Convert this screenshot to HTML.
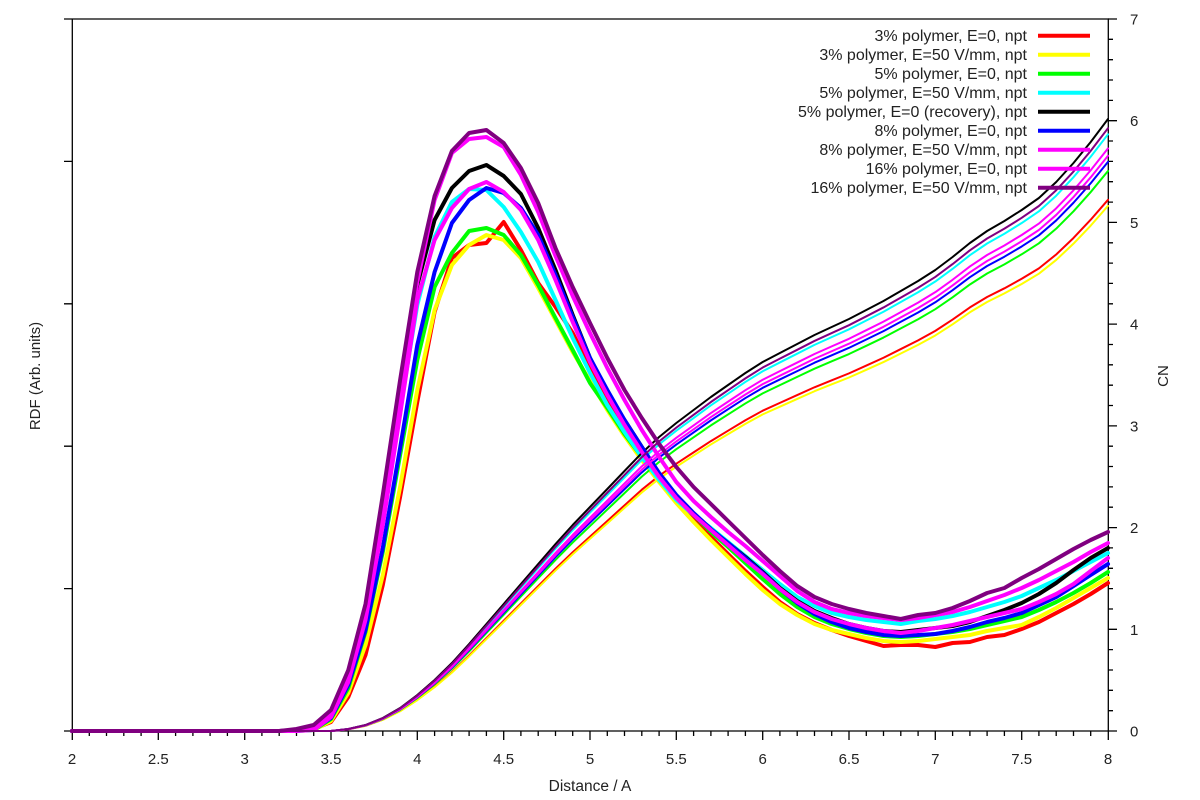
<!DOCTYPE html>
<html>
<head>
<meta charset="utf-8">
<style>
html,body{margin:0;padding:0;background:#fff;}
svg{display:block;}
text{font-family:"Liberation Sans",Arial,sans-serif;fill:#222;}
</style>
</head>
<body>
<svg width="1200" height="800" viewBox="0 0 1200 800" xmlns="http://www.w3.org/2000/svg">
<rect x="0" y="0" width="1200" height="800" fill="#fff"/>

<!-- frame -->
<g stroke="#000" stroke-width="1.3" fill="none">
<path d="M72.3 19 V731 H1108.3 V19 H64"/>
<!-- left ticks -->
<path d="M64 731 H72 M64 588.6 H72 M64 446.2 H72 M64 303.8 H72 M64 161.4 H72"/>
<!-- x major ticks -->
<path d="M72.3 731 v9 M158.3 731 v9 M244.7 731 v9 M331 731 v9 M417.3 731 v9 M503.7 731 v9 M590 731 v9 M676.3 731 v9 M762.7 731 v9 M849 731 v9 M935.3 731 v9 M1021.7 731 v9 M1108.3 731 v9"/>
<!-- x minor ticks -->
<path d="M89.3 731v5M106.5 731v5M123.8 731v5M141.1 731v5M175.6 731v5M192.9 731v5M210.1 731v5M227.4 731v5M261.9 731v5M279.2 731v5M296.5 731v5M313.7 731v5M348.3 731v5M365.5 731v5M382.8 731v5M400.1 731v5M434.6 731v5M451.9 731v5M469.1 731v5M486.4 731v5M520.9 731v5M538.2 731v5M555.5 731v5M572.7 731v5M607.3 731v5M624.5 731v5M641.8 731v5M659.1 731v5M693.6 731v5M710.9 731v5M728.1 731v5M745.4 731v5M779.9 731v5M797.2 731v5M814.5 731v5M831.7 731v5M866.3 731v5M883.5 731v5M900.8 731v5M918.1 731v5M952.6 731v5M969.9 731v5M987.1 731v5M1004.4 731v5M1038.9 731v5M1056.2 731v5M1073.5 731v5M1090.7 731v5"/>
<!-- right major ticks -->
<path d="M1108 731h9M1108 629.3h9M1108 527.6h9M1108 425.9h9M1108 324.1h9M1108 222.4h9M1108 120.7h9M1108 19h9"/>
<!-- right minor ticks -->
<path d="M1108 710.7h5M1108 690.3h5M1108 670h5M1108 649.6h5M1108 609h5M1108 588.6h5M1108 568.3h5M1108 547.9h5M1108 507.2h5M1108 486.9h5M1108 466.5h5M1108 446.2h5M1108 405.5h5M1108 385.2h5M1108 364.8h5M1108 344.5h5M1108 303.8h5M1108 283.4h5M1108 263.1h5M1108 242.8h5M1108 202.1h5M1108 181.7h5M1108 161.4h5M1108 141h5M1108 100.4h5M1108 80h5M1108 59.7h5M1108 39.3h5"/>
</g>

<!-- x tick labels -->
<g font-size="15" text-anchor="middle">
<text x="72" y="764">2</text>
<text x="158.3" y="764">2.5</text>
<text x="244.7" y="764">3</text>
<text x="331" y="764">3.5</text>
<text x="417.3" y="764">4</text>
<text x="503.7" y="764">4.5</text>
<text x="590" y="764">5</text>
<text x="676.3" y="764">5.5</text>
<text x="762.7" y="764">6</text>
<text x="849" y="764">6.5</text>
<text x="935.3" y="764">7</text>
<text x="1021.7" y="764">7.5</text>
<text x="1108" y="764">8</text>
</g>
<!-- right tick labels -->
<g font-size="15" text-anchor="start">
<text x="1130" y="736.5">0</text>
<text x="1130" y="634.8">1</text>
<text x="1130" y="533.1">2</text>
<text x="1130" y="431.4">3</text>
<text x="1130" y="329.6">4</text>
<text x="1130" y="227.9">5</text>
<text x="1130" y="126.2">6</text>
<text x="1130" y="24.5">7</text>
</g>

<!-- axis labels -->
<text x="590" y="791" font-size="15.5" text-anchor="middle">Distance / A</text>
<text transform="translate(40,376) rotate(-90)" font-size="15" text-anchor="middle">RDF (Arb. units)</text>
<text transform="translate(1168,376) rotate(-90)" font-size="15" text-anchor="middle">CN</text>

<g fill="none" stroke-linejoin="round" stroke-linecap="round">

<!-- 3% E=0 red -->
<polyline stroke="#ff0000" stroke-width="4" points="72,731 279.2,731 296.5,731 313.7,729 331,722 348.3,697 365.5,655 382.8,585 400.1,497 417.3,402 434.6,312 451.9,258 469.1,245 486.4,243 503.7,222 520.9,250 538.2,283 555.5,307 572.7,333 590,368 607.3,402 624.5,432 641.8,457 659.1,480 676.3,500 693.6,519 710.9,537 728.1,554 745.4,571 762.7,587 779.9,602 797.2,614 814.5,623 831.7,630 849,636 866.3,641 883.5,646 900.8,645 918.1,645 935.3,647 952.6,643 969.9,642 987.1,637 1004.4,635 1021.7,629 1038.9,622 1056.2,613 1073.5,604 1090.7,594 1108,583"/>
<polyline stroke="#ff0000" stroke-width="2" vector-effect="non-scaling-stroke" transform="matrix(1 0 0 0.868 0 96.492)" points="72,731 331,731 348.3,729 365.5,725 382.8,718 400.1,708 417.3,695 434.6,680 451.9,663 469.1,644 486.4,624 503.7,604 520.9,584 538.2,564 555.5,544 572.7,525 590,507 607.3,489 624.5,471 641.8,453 659.1,437 676.3,423 693.6,410 710.9,397 728.1,385 745.4,373 762.7,362 779.9,353 797.2,344 814.5,335 831.7,327 849,319 866.3,310 883.5,301 900.8,291 918.1,281 935.3,270 952.6,257 969.9,243 987.1,231 1004.4,221 1021.7,210 1038.9,198 1056.2,182 1073.5,163 1090.7,142 1108,119"/>

<!-- 3% E=50 yellow -->
<polyline stroke="#ffff00" stroke-width="4" points="72,731 279.2,731 296.5,731 313.7,730 331,721 348.3,693 365.5,645 382.8,575 400.1,487 417.3,390 434.6,310 451.9,265 469.1,245 486.4,235 503.7,240 520.9,258 538.2,288 555.5,320 572.7,352 590,381 607.3,410 624.5,436 641.8,460 659.1,482 676.3,503 693.6,522 710.9,540 728.1,557 745.4,574 762.7,590 779.9,604 797.2,615 814.5,624 831.7,630 849,634 866.3,638 883.5,641 900.8,642 918.1,641 935.3,639 952.6,637 969.9,635 987.1,631 1004.4,628 1021.7,625 1038.9,617 1056.2,608 1073.5,598 1090.7,588 1108,578"/>
<polyline stroke="#ffff00" stroke-width="2" vector-effect="non-scaling-stroke" transform="matrix(1 0 0 0.858 0 103.798)" points="72,731 331,731 348.3,729 365.5,725 382.8,718 400.1,708 417.3,695 434.6,680 451.9,663 469.1,644 486.4,624 503.7,604 520.9,584 538.2,564 555.5,544 572.7,525 590,507 607.3,489 624.5,471 641.8,453 659.1,437 676.3,423 693.6,410 710.9,397 728.1,385 745.4,373 762.7,362 779.9,353 797.2,344 814.5,335 831.7,327 849,319 866.3,310 883.5,301 900.8,291 918.1,281 935.3,270 952.6,257 969.9,243 987.1,231 1004.4,221 1021.7,210 1038.9,198 1056.2,182 1073.5,163 1090.7,142 1108,119"/>

<!-- 5% E=0 green -->
<polyline stroke="#00ff00" stroke-width="4" points="72,731 279.2,731 296.5,731 313.7,730 331,719 348.3,688 365.5,632 382.8,552 400.1,455 417.3,360 434.6,287 451.9,253 469.1,231 486.4,228 503.7,235 520.9,255 538.2,285 555.5,318 572.7,350 590,383 607.3,408 624.5,434 641.8,457 659.1,479 676.3,498 693.6,515 710.9,532 728.1,547 745.4,563 762.7,579 779.9,594 797.2,607 814.5,617 831.7,624 849,629 866.3,633 883.5,636 900.8,637 918.1,636 935.3,634 952.6,632 969.9,629 987.1,625 1004.4,621 1021.7,617 1038.9,610 1056.2,602 1073.5,593 1090.7,583 1108,572"/>
<polyline stroke="#00ff00" stroke-width="2" vector-effect="non-scaling-stroke" transform="matrix(1 0 0 0.915 0 62.135)" points="72,731 331,731 348.3,729 365.5,725 382.8,718 400.1,708 417.3,695 434.6,680 451.9,663 469.1,644 486.4,624 503.7,604 520.9,584 538.2,564 555.5,544 572.7,525 590,507 607.3,489 624.5,471 641.8,453 659.1,437 676.3,423 693.6,410 710.9,397 728.1,385 745.4,373 762.7,362 779.9,353 797.2,344 814.5,335 831.7,327 849,319 866.3,310 883.5,301 900.8,291 918.1,281 935.3,270 952.6,257 969.9,243 987.1,231 1004.4,221 1021.7,210 1038.9,198 1056.2,182 1073.5,163 1090.7,142 1108,119"/>

<!-- 5% E=50 cyan -->
<polyline stroke="#00ffff" stroke-width="4" points="72,731 279.2,731 296.5,731 313.7,730 331,716 348.3,680 365.5,617 382.8,520 400.1,410 417.3,305 434.6,237 451.9,202 469.1,189 486.4,190 503.7,207 520.9,232 538.2,262 555.5,300 572.7,338 590,373 607.3,405 624.5,432 641.8,457 659.1,480 676.3,500 693.6,515 710.9,528 728.1,542 745.4,556 762.7,570 779.9,584 797.2,597 814.5,606 831.7,613 849,617 866.3,620 883.5,622 900.8,624 918.1,621 935.3,619 952.6,616 969.9,612 987.1,607 1004.4,602 1021.7,596 1038.9,588 1056.2,580 1073.5,571 1090.7,562 1108,553"/>
<polyline stroke="#00ffff" stroke-width="2" vector-effect="non-scaling-stroke" transform="matrix(1 0 0 0.975 0 18.275)" points="72,731 331,731 348.3,729 365.5,725 382.8,718 400.1,708 417.3,695 434.6,680 451.9,663 469.1,644 486.4,624 503.7,604 520.9,584 538.2,564 555.5,544 572.7,525 590,507 607.3,489 624.5,471 641.8,453 659.1,437 676.3,423 693.6,410 710.9,397 728.1,385 745.4,373 762.7,362 779.9,353 797.2,344 814.5,335 831.7,327 849,319 866.3,310 883.5,301 900.8,291 918.1,281 935.3,270 952.6,257 969.9,243 987.1,231 1004.4,221 1021.7,210 1038.9,198 1056.2,182 1073.5,163 1090.7,142 1108,119"/>

<!-- 5% recovery black -->
<polyline stroke="#000000" stroke-width="4" points="72,731 279.2,731 296.5,730 313.7,727 331,716 348.3,680 365.5,615 382.8,510 400.1,395 417.3,285 434.6,220 451.9,188 469.1,171 486.4,165 503.7,176 520.9,194 538.2,228 555.5,270 572.7,315 590,358 607.3,392 624.5,420 641.8,447 659.1,474 676.3,497 693.6,515 710.9,530 728.1,543 745.4,557 762.7,572 779.9,588 797.2,601 814.5,611 831.7,618 849,624 866.3,628 883.5,631 900.8,632 918.1,630 935.3,628 952.6,626 969.9,622 987.1,616 1004.4,610 1021.7,603 1038.9,594 1056.2,583 1073.5,570 1090.7,558 1108,548"/>
<polyline stroke="#000000" stroke-width="2" points="72,731 331,731 348.3,729 365.5,725 382.8,718 400.1,708 417.3,695 434.6,680 451.9,663 469.1,644 486.4,624 503.7,604 520.9,584 538.2,564 555.5,544 572.7,525 590,507 607.3,489 624.5,471 641.8,453 659.1,437 676.3,423 693.6,410 710.9,397 728.1,385 745.4,373 762.7,362 779.9,353 797.2,344 814.5,335 831.7,327 849,319 866.3,310 883.5,301 900.8,291 918.1,281 935.3,270 952.6,257 969.9,243 987.1,231 1004.4,221 1021.7,210 1038.9,198 1056.2,182 1073.5,163 1090.7,142 1108,119"/>

<!-- 8% E=0 blue -->
<polyline stroke="#0000ff" stroke-width="4" points="72,731 279.2,731 296.5,731 313.7,729 331,718 348.3,685 365.5,630 382.8,548 400.1,448 417.3,345 434.6,272 451.9,223 469.1,200 486.4,188 503.7,193 520.9,208 538.2,235 555.5,275 572.7,317 590,358 607.3,390 624.5,420 641.8,447 659.1,473 676.3,495 693.6,513 710.9,529 728.1,543 745.4,558 762.7,573 779.9,589 797.2,603 814.5,614 831.7,622 849,628 866.3,632 883.5,635 900.8,636 918.1,635 935.3,634 952.6,631 969.9,627 987.1,622 1004.4,618 1021.7,613 1038.9,605 1056.2,597 1073.5,586 1090.7,575 1108,564"/>
<polyline stroke="#0000ff" stroke-width="2" vector-effect="non-scaling-stroke" transform="matrix(1 0 0 0.93 0 51.17)" points="72,731 331,731 348.3,729 365.5,725 382.8,718 400.1,708 417.3,695 434.6,680 451.9,663 469.1,644 486.4,624 503.7,604 520.9,584 538.2,564 555.5,544 572.7,525 590,507 607.3,489 624.5,471 641.8,453 659.1,437 676.3,423 693.6,410 710.9,397 728.1,385 745.4,373 762.7,362 779.9,353 797.2,344 814.5,335 831.7,327 849,319 866.3,310 883.5,301 900.8,291 918.1,281 935.3,270 952.6,257 969.9,243 987.1,231 1004.4,221 1021.7,210 1038.9,198 1056.2,182 1073.5,163 1090.7,142 1108,119"/>

<!-- 8% E=50 magenta -->
<polyline stroke="#ff00ff" stroke-width="4" points="72,731 279.2,731 296.5,731 313.7,730 331,717 348.3,682 365.5,620 382.8,525 400.1,415 417.3,300 434.6,240 451.9,208 469.1,189 486.4,182 503.7,192 520.9,210 538.2,240 555.5,280 572.7,322 590,362 607.3,395 624.5,425 641.8,452 659.1,477 676.3,498 693.6,515 710.9,530 728.1,545 745.4,560 762.7,574 779.9,589 797.2,602 814.5,612 831.7,619 849,624 866.3,628 883.5,631 900.8,633 918.1,631 935.3,628 952.6,625 969.9,621 987.1,617 1004.4,613 1021.7,609 1038.9,602 1056.2,594 1073.5,584 1090.7,571 1108,558"/>
<polyline stroke="#ff00ff" stroke-width="2" vector-effect="non-scaling-stroke" transform="matrix(1 0 0 0.94 0 43.86)" points="72,731 331,731 348.3,729 365.5,725 382.8,718 400.1,708 417.3,695 434.6,680 451.9,663 469.1,644 486.4,624 503.7,604 520.9,584 538.2,564 555.5,544 572.7,525 590,507 607.3,489 624.5,471 641.8,453 659.1,437 676.3,423 693.6,410 710.9,397 728.1,385 745.4,373 762.7,362 779.9,353 797.2,344 814.5,335 831.7,327 849,319 866.3,310 883.5,301 900.8,291 918.1,281 935.3,270 952.6,257 969.9,243 987.1,231 1004.4,221 1021.7,210 1038.9,198 1056.2,182 1073.5,163 1090.7,142 1108,119"/>

<!-- 16% E=0 magenta -->
<polyline stroke="#ff00ff" stroke-width="4" points="72,731 279.2,731 296.5,730 313.7,726 331,713 348.3,678 365.5,617 382.8,515 400.1,395 417.3,282 434.6,200 451.9,153 469.1,139 486.4,137 503.7,147 520.9,175 538.2,212 555.5,256 572.7,296 590,333 607.3,368 624.5,400 641.8,430 659.1,457 676.3,482 693.6,501 710.9,517 728.1,532 745.4,546 762.7,561 779.9,576 797.2,591 814.5,602 831.7,609 849,613 866.3,616 883.5,618 900.8,620 918.1,618 935.3,615 952.6,612 969.9,607 987.1,601 1004.4,595 1021.7,588 1038.9,580 1056.2,571 1073.5,562 1090.7,552 1108,543"/>
<polyline stroke="#ff00ff" stroke-width="2" vector-effect="non-scaling-stroke" transform="matrix(1 0 0 0.952 0 35.088)" points="72,731 331,731 348.3,729 365.5,725 382.8,718 400.1,708 417.3,695 434.6,680 451.9,663 469.1,644 486.4,624 503.7,604 520.9,584 538.2,564 555.5,544 572.7,525 590,507 607.3,489 624.5,471 641.8,453 659.1,437 676.3,423 693.6,410 710.9,397 728.1,385 745.4,373 762.7,362 779.9,353 797.2,344 814.5,335 831.7,327 849,319 866.3,310 883.5,301 900.8,291 918.1,281 935.3,270 952.6,257 969.9,243 987.1,231 1004.4,221 1021.7,210 1038.9,198 1056.2,182 1073.5,163 1090.7,142 1108,119"/>

<!-- 16% E=50 purple -->
<polyline stroke="#800080" stroke-width="4" points="72,731 279.2,731 296.5,729 313.7,725 331,710 348.3,670 365.5,604 382.8,495 400.1,380 417.3,272 434.6,196 451.9,151 469.1,133 486.4,130 503.7,143 520.9,168 538.2,203 555.5,248 572.7,287 590,323 607.3,358 624.5,390 641.8,418 659.1,444 676.3,467 693.6,487 710.9,504 728.1,521 745.4,538 762.7,555 779.9,571 797.2,586 814.5,597 831.7,604 849,609 866.3,613 883.5,616 900.8,619 918.1,615 935.3,613 952.6,608 969.9,601 987.1,593 1004.4,588 1021.7,578 1038.9,569 1056.2,559 1073.5,549 1090.7,540 1108,532"/>
<polyline stroke="#800080" stroke-width="2" vector-effect="non-scaling-stroke" transform="matrix(1 0 0 0.985 0 10.965)" points="72,731 331,731 348.3,729 365.5,725 382.8,718 400.1,708 417.3,695 434.6,680 451.9,663 469.1,644 486.4,624 503.7,604 520.9,584 538.2,564 555.5,544 572.7,525 590,507 607.3,489 624.5,471 641.8,453 659.1,437 676.3,423 693.6,410 710.9,397 728.1,385 745.4,373 762.7,362 779.9,353 797.2,344 814.5,335 831.7,327 849,319 866.3,310 883.5,301 900.8,291 918.1,281 935.3,270 952.6,257 969.9,243 987.1,231 1004.4,221 1021.7,210 1038.9,198 1056.2,182 1073.5,163 1090.7,142 1108,119"/>
</g>

<!-- legend -->
<g stroke-width="4" fill="none">
<line x1="1038" y1="35.7" x2="1090" y2="35.7" stroke="#ff0000"/>
<line x1="1038" y1="54.7" x2="1090" y2="54.7" stroke="#ffff00"/>
<line x1="1038" y1="73.7" x2="1090" y2="73.7" stroke="#00ff00"/>
<line x1="1038" y1="92.7" x2="1090" y2="92.7" stroke="#00ffff"/>
<line x1="1038" y1="111.7" x2="1090" y2="111.7" stroke="#000000"/>
<line x1="1038" y1="130.7" x2="1090" y2="130.7" stroke="#0000ff"/>
<line x1="1038" y1="149.7" x2="1090" y2="149.7" stroke="#ff00ff"/>
<line x1="1038" y1="168.7" x2="1090" y2="168.7" stroke="#ff00ff"/>
<line x1="1038" y1="187.7" x2="1090" y2="187.7" stroke="#800080"/>
</g>
<g font-size="16" text-anchor="end">
<text x="1027" y="41.2">3% polymer, E=0, npt</text>
<text x="1027" y="60.2">3% polymer, E=50 V/mm, npt</text>
<text x="1027" y="79.2">5% polymer, E=0, npt</text>
<text x="1027" y="98.2">5% polymer, E=50 V/mm, npt</text>
<text x="1027" y="117.2">5% polymer, E=0 (recovery), npt</text>
<text x="1027" y="136.2">8% polymer, E=0, npt</text>
<text x="1027" y="155.2">8% polymer, E=50 V/mm, npt</text>
<text x="1027" y="174.2">16% polymer, E=0, npt</text>
<text x="1027" y="193.2">16% polymer, E=50 V/mm, npt</text>
</g>
</svg>
</body>
</html>
